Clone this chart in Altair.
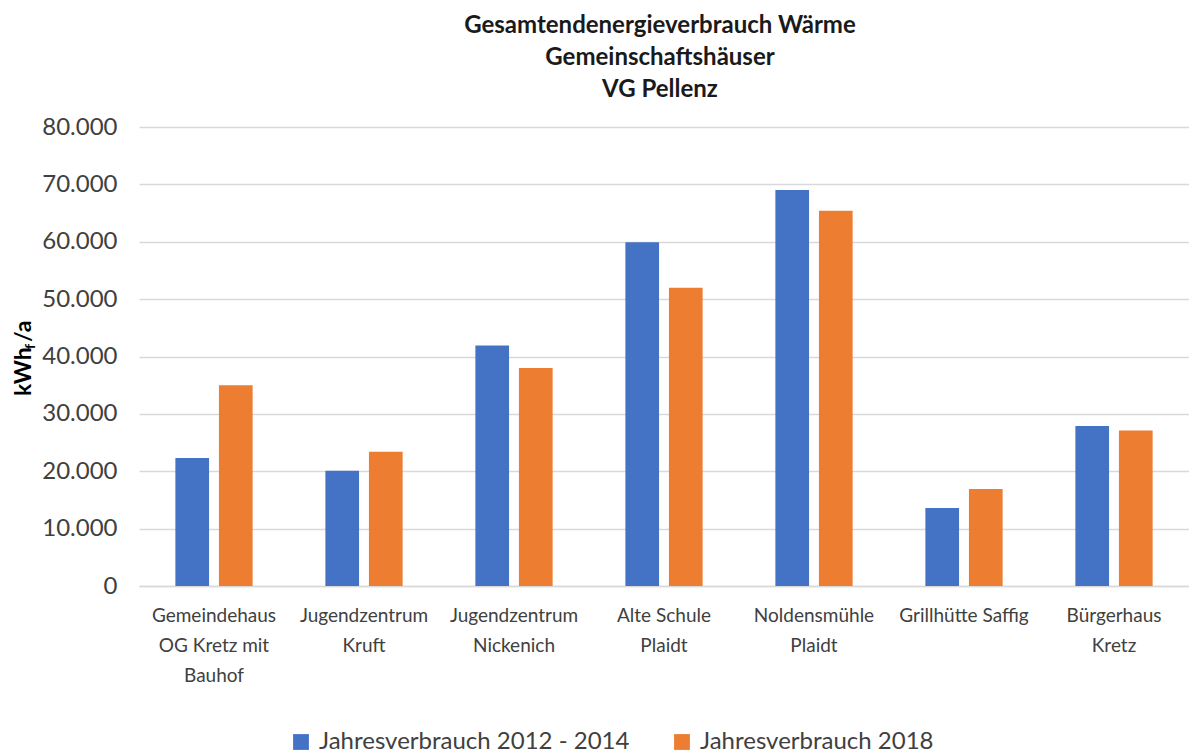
import altair as alt
import pandas as pd

categories = [
    "Gemeindehaus\nOG Kretz mit\nBauhof",
    "Jugendzentrum\nKruft",
    "Jugendzentrum\nNickenich",
    "Alte Schule\nPlaidt",
    "Noldensmühle\nPlaidt",
    "Grillhütte Saffig",
    "Bürgerhaus\nKretz",
]
series = ["Jahresverbrauch 2012 - 2014", "Jahresverbrauch 2018"]
values_2012_2014 = [22300, 20100, 41900, 59900, 69000, 13600, 27900]
values_2018 = [35000, 23400, 38000, 52000, 65400, 16900, 27100]
colors = ["#4472C4", "#ED7D31"]
title_lines = ["Gesamtendenergieverbrauch Wärme", "Gemeinschaftshäuser", "VG Pellenz"]
y_title_parts = ["kWh", "f", "/a"]
y_ticks = [0, 10000, 20000, 30000, 40000, 50000, 60000, 70000, 80000]

rows = []
for c, a, b in zip(categories, values_2012_2014, values_2018):
    rows.append({"cat": c, "series": series[0], "value": a})
    rows.append({"cat": c, "series": series[1], "value": b})
df = pd.DataFrame(rows)

FONT = "Lato"
TXT = "#404040"

bars = alt.Chart(df).mark_bar().encode(
    x=alt.X(
        "cat:N",
        sort=categories,
        scale=alt.Scale(paddingInner=0.485, paddingOuter=0.2425),
        axis=alt.Axis(
            title=None,
            labelAngle=0,
            labelExpr="split(datum.label, '\\n')",
            labelFontSize=19,
            labelColor=TXT,
            labelFont=FONT,
            labelPadding=20,
            labelLineHeight=30,
            labelBaseline="top",
            ticks=False,
            domainColor="#D9D9D9",
            domainWidth=1.5,
            labelLimit=200,
        ),
    ),
    xOffset=alt.XOffset("series:N", sort=series, scale=alt.Scale(paddingInner=0.227)),
    y=alt.Y(
        "value:Q",
        scale=alt.Scale(domain=[0, 80000]),
        axis=alt.Axis(
            title=None,
            values=y_ticks,
            labelExpr="replace(format(datum.value, ','), ',', '.')",
            labelFontSize=24,
            labelColor=TXT,
            labelFont=FONT,
            labelPadding=22,
            ticks=False,
            domain=False,
            gridColor="#D9D9D9",
            gridWidth=1.5,
        ),
    ),
    color=alt.Color(
        "series:N",
        sort=series,
        scale=alt.Scale(domain=series, range=colors),
        legend=alt.Legend(
            title=None,
            orient="none",
            legendX=150,
            legendY=603,
            direction="horizontal",
            symbolType="square",
            symbolSize=250,
            symbolStrokeWidth=0,
            labelFontSize=24,
            labelColor=TXT,
            labelFont=FONT,
            labelOffset=6,
            columnPadding=40,
            labelLimit=400,
        ),
    ),
)

def ytitle_part(text, size, x, y):
    return alt.Chart(pd.DataFrame({"t": [text]})).mark_text(
        angle=270, align="left", baseline="alphabetic", font=FONT,
        fontWeight="bold", fontSize=size, color="#000000",
    ).encode(text="t:N", x=alt.value(x), y=alt.value(y))

ytitle = (
    ytitle_part(y_title_parts[0], 23, -108, 269)
    + ytitle_part(y_title_parts[1], 14, -104, 222)
    + ytitle_part(y_title_parts[2], 23, -108, 215)
)

chart = alt.layer(bars, ytitle).properties(
    width=1050,
    height=459,
    title=alt.TitleParams(
        title_lines,
        fontSize=24,
        fontWeight="bold",
        color="#1a1a1a",
        font=FONT,
        anchor="middle",
        frame="group",
        dx=-4,
        lineHeight=32,
        offset=13,
    ),
    padding={"left": 5, "top": 6, "right": 0, "bottom": 0},
).configure_view(stroke=None)

chart.save("out.html", embed_options={"renderer": "svg", "actions": False})
